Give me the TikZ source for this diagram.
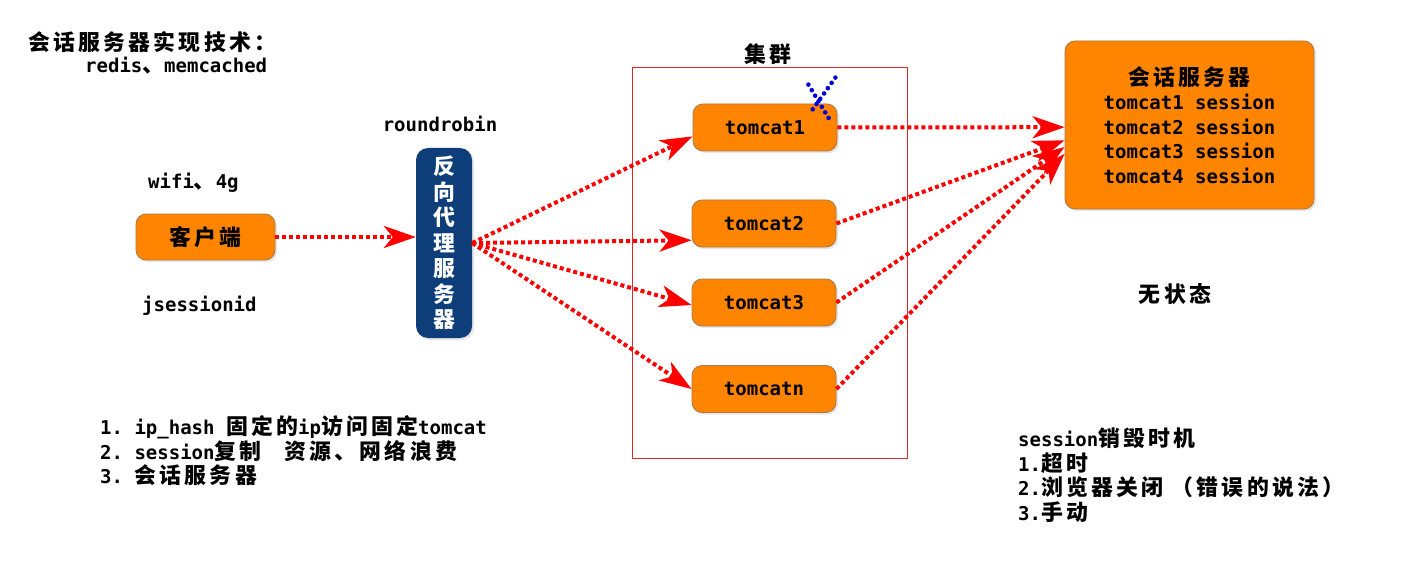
\documentclass[tikz,border=0pt]{standalone}
\usepackage{fontspec}
\setmonofont{DejaVu Sans Mono}
\newfontfamily\cjk{Noto Sans CJK SC}[Scale=1.15, LetterSpace=15]
\usetikzlibrary{arrows.meta,shadows,calc}
\definecolor{boxorange}{RGB}{255,133,0}
\definecolor{boxedge}{RGB}{170,120,70}
\definecolor{proxyblue}{RGB}{13,62,122}
\definecolor{clusterred}{RGB}{220,40,40}
\newcommand{\zh}[1]{{\cjk\bfseries #1}}

\begin{document}
\begin{tikzpicture}[x=1pt, y=-1pt,
        every node/.style={font=\ttfamily\bfseries\fontsize{19}{24.5}\selectfont, inner sep=0pt},
        zhfont/.style={font=\cjk\bfseries\fontsize{19}{25.5}\selectfont},
        box/.style={draw=boxedge, fill=boxorange, rounded corners=10pt, line width=0.8pt,
            drop shadow={opacity=0.2, shadow xshift=2pt, shadow yshift=-2pt}},
        tomcat/.style={box, minimum width=144pt, minimum height=47pt},
        flow/.style={draw=red, line width=4pt, dash pattern=on 4pt off 3pt,
            -{Stealth[length=32pt, width=22pt, inset=9pt]}},
        cross/.style={draw=blue!85!black, line width=4.6pt, line cap=round, dash pattern=on 0pt off 6.5pt}]
        \useasboundingbox (0,0) rectangle (1402,588);
        \node (title) at (28,42) [anchor=west] {\zh{会话服务器实现技术：}};
        \node (cache) at (85,66) [anchor=west] {redis\zh{、}memcached};
        \node (rr) at (440,124) {roundrobin};
        \node (net) at (148,183) [anchor=west] {wifi\zh{、}4g};
        \node (client) at (205.5,237) [box, minimum width=139pt, minimum height=46pt] {\zh{客户端}};
        \node (jsid) at (142,306) [anchor=west] {jsessionid};
        \node (proxy) at (444,243) [fill=proxyblue, rounded corners=12pt, minimum width=56pt, minimum height=190pt,
            text=white, align=center, zhfont, drop shadow={opacity=0.2, shadow xshift=2pt, shadow yshift=-2pt}]
            {反\\向\\代\\理\\服\\务\\器};
        \node (cluster) at (769.5,263) [draw=clusterred, line width=1pt, minimum width=275pt, minimum height=390pt] {};
        \node (clabel) at (768,54) [zhfont] {集群};
        \node (t1) at (765,127.5) [tomcat] {tomcat1};
        \node (t2) at (764,223.5) [tomcat] {tomcat2};
        \node (t3) at (764,302.5) [tomcat] {tomcat3};
        \node (tn) at (764,389) [tomcat] {tomcatn};
        \node (sess) at (1189.5,125) [box, minimum width=249pt, minimum height=168pt, align=center]
            {\zh{会话服务器}\\tomcat1 session\\tomcat2 session\\tomcat3 session\\tomcat4 session};
        \node (state) at (1175,294) {\zh{无状态}};
        \node (ways) at (100,451) [anchor=west, align=left]
            {1. ip\_hash \zh{固定的}ip\zh{访问固定}tomcat\\2. session\zh{复制}\ \ \zh{资源、网络浪费}\\3. \zh{会话服务器}};
        \node (destroy) at (1018,475) [anchor=west, align=left]
            {session\zh{销毁时机}\\1.\zh{超时}\\2.\zh{浏览器关闭\ （错误的说法）}\\3.\zh{手动}};
        \draw[flow] (client.east) -- (client.east -| proxy.west);
        \foreach \t/\a in {t1/187, t2/193, t3/182, tn/180}
            \draw[flow] (proxy.east) -- (\t.\a);
        \foreach \t/\a in {t1/181, t2/187, t3/190, tn/193}
            \draw[flow] (\t.east) -- (sess.\a);
        \draw[cross] ($(t1.north east)+(-29,-19)$) -- ($(t1.north east)+(-6,19)$);
        \draw[cross] ($(t1.north east)+(-2,-26)$) -- ($(t1.north east)+(-27,9)$);
    \end{tikzpicture}
\end{document}
